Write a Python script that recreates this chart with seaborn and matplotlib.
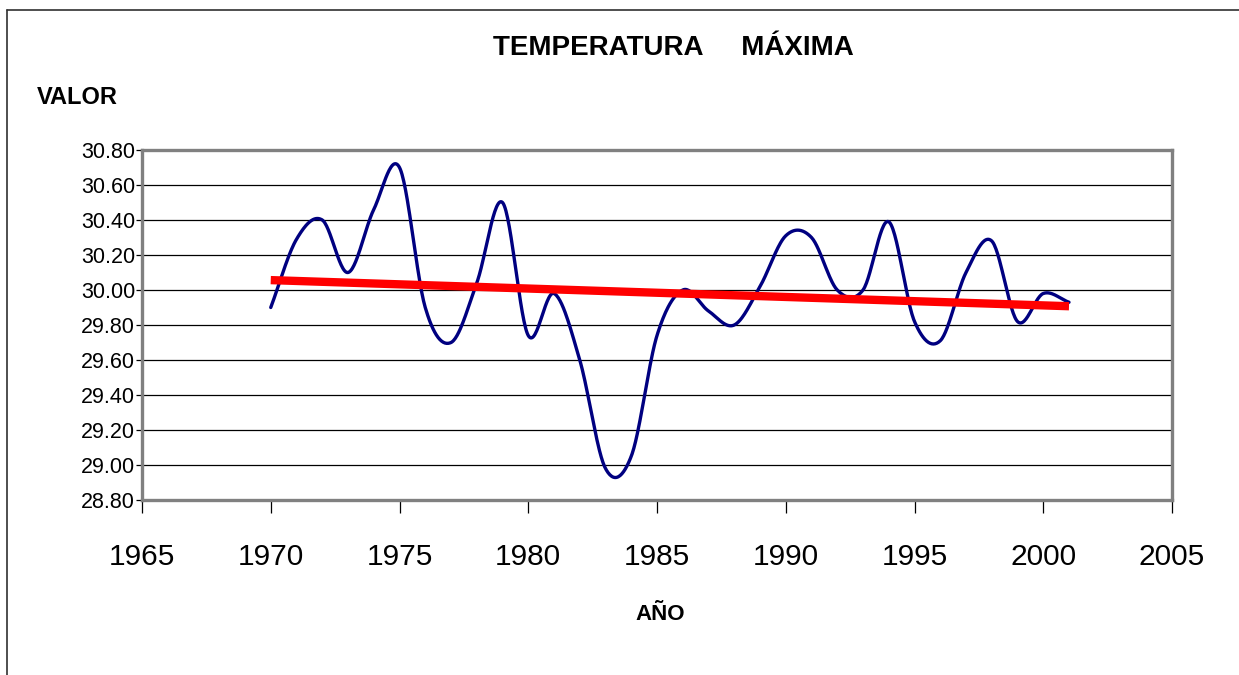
import numpy as np
import pandas as pd
import matplotlib
matplotlib.use("Agg")
import matplotlib.pyplot as plt
import seaborn as sns
from matplotlib.lines import Line2D

# ---- data ----
years = list(range(1970, 2002))
temp_max = [29.90, 30.29, 30.40, 30.10, 30.46, 30.70, 29.90, 29.70, 30.04, 30.50,
            29.74, 29.98, 29.60, 28.98, 29.05, 29.74, 30.00, 29.88, 29.80, 30.02,
            30.31, 30.30, 30.00, 30.00, 30.39, 29.82, 29.71, 30.10, 30.28, 29.82,
            29.98, 29.93]
x_ticks = [1965, 1970, 1975, 1980, 1985, 1990, 1995, 2000, 2005]
y_ticks = [28.80, 29.00, 29.20, 29.40, 29.60, 29.80, 30.00, 30.20, 30.40, 30.60, 30.80]
title = "TEMPERATURA     MÁXIMA"
y_label = "VALOR"
x_label = "AÑO"

df = pd.DataFrame({"year": years, "temp": temp_max})

# Smoothed line (Catmull-Rom / Excel-style smoothing through the data points)
def smooth(xs, ys, n=30):
    xs = np.asarray(xs, float); ys = np.asarray(ys, float)
    m = np.empty_like(ys)
    m[1:-1] = (ys[2:] - ys[:-2]) / 2.0
    m[0] = ys[1] - ys[0]
    m[-1] = ys[-1] - ys[-2]
    out_x, out_y = [], []
    for i in range(len(xs) - 1):
        t = np.linspace(0, 1, n, endpoint=(i == len(xs) - 2))
        h00 = 2 * t**3 - 3 * t**2 + 1
        h10 = t**3 - 2 * t**2 + t
        h01 = -2 * t**3 + 3 * t**2
        h11 = t**3 - t**2
        out_y.append(h00 * ys[i] + h10 * m[i] + h01 * ys[i + 1] + h11 * m[i + 1])
        out_x.append(xs[i] + t * (xs[i + 1] - xs[i]))
    return np.concatenate(out_x), np.concatenate(out_y)

sx, sy = smooth(df["year"], df["temp"])
smooth_df = pd.DataFrame({"year": sx, "temp": sy})

sns.set_style("white")
plt.rcParams["font.family"] = ["Liberation Sans", "DejaVu Sans"]
plt.rcParams["text.color"] = "black"
plt.rcParams["xtick.color"] = "black"
plt.rcParams["ytick.color"] = "black"

fig = plt.figure(figsize=(12.39, 6.75), dpi=100)
ax = fig.add_axes([142 / 1239, 1 - 500 / 675, (1172 - 142) / 1239, 350 / 675])

sns.lineplot(data=smooth_df, x="year", y="temp", sort=False, estimator=None,
             color="#000080", linewidth=2.4, ax=ax, zorder=3)
sns.regplot(data=df, x="year", y="temp", scatter=False, ci=None, truncate=True,
            line_kws={"color": "#FF0000", "linewidth": 6, "solid_capstyle": "butt", "zorder": 4},
            ax=ax)

ax.set_xlim(1965, 2005)
ax.set_ylim(28.80, 30.80)
ax.set_xticks(x_ticks)
ax.set_xticklabels([str(v) for v in x_ticks], fontsize=21.5, color="black")
ax.set_yticks(y_ticks)
ax.set_yticklabels([f"{v:.2f}" for v in y_ticks], fontsize=15.5, color="black")
ax.set_xlabel("")
ax.set_ylabel("")
ax.yaxis.grid(True, color="black", linewidth=0.9)
ax.xaxis.grid(False)
ax.set_axisbelow(True)
for s in ax.spines.values():
    s.set_color("#808080")
    s.set_linewidth(2.4)
ax.tick_params(axis="x", direction="out", length=9, width=0.9, color="black", pad=22)
ax.tick_params(axis="y", direction="out", length=4, width=0.9, color="black", pad=1)
ax.tick_params(left=True, bottom=True)

fig.text(673 / 1239, 1 - 48 / 675, title, ha="center", va="center",
         fontsize=20, fontweight="bold", color="black")
fig.text(37 / 1239, 1 - 97 / 675, y_label, ha="left", va="center",
         fontsize=17, fontweight="bold", color="black")
fig.text(660 / 1239, 1 - 615 / 675, x_label, ha="center", va="center",
         fontsize=16, fontweight="bold", color="black")

# outer chart frame (top and left edges visible)
fig.add_artist(Line2D([7 / 1239, 1], [1 - 10 / 675, 1 - 10 / 675], transform=fig.transFigure,
                      color="#303030", linewidth=1.2))
fig.add_artist(Line2D([7 / 1239, 7 / 1239], [0, 1 - 10 / 675], transform=fig.transFigure,
                      color="#303030", linewidth=1.2))

fig.savefig("out.png", dpi=100)
